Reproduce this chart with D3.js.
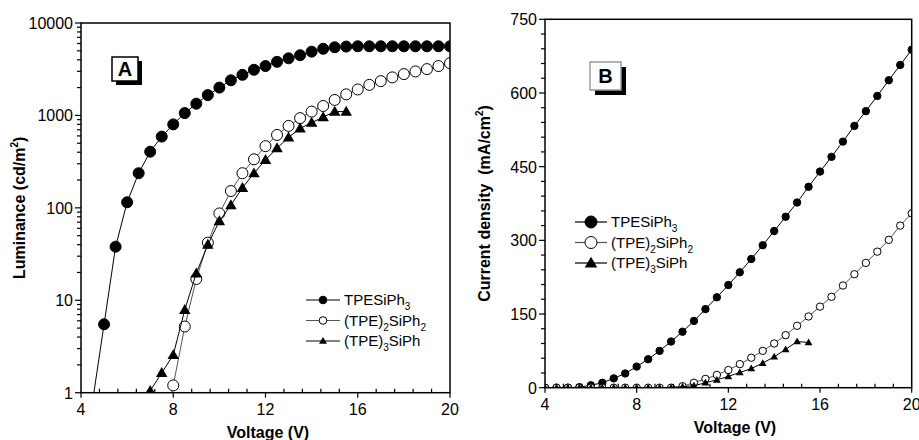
<!DOCTYPE html>
<html lang="en">
<head>
<meta charset="UTF-8">
<title>Luminance and current density vs voltage</title>
<style>
  body { margin: 0; background: #fff; }
  svg { display: block; }
  text { font-family: "Liberation Sans", Arial, sans-serif; fill: #000; }
  .tick-label { font-size: 16px; }
  .axis-title { font-size: 16px; font-weight: bold; }
  .legend-text { font-size: 15px; }
  .frame { fill: none; stroke: #000; stroke-width: 1.5px; }
</style>
</head>
<body>
<svg id="chart" width="919" height="440"></svg>
<script src="https://cdn.jsdelivr.net/npm/d3@7/dist/d3.min.js"></script>
<script>
// ---- panel A: luminance (cd/m2) ----
const voltA1 = [4.5, 5, 5.5, 6, 6.5, 7, 7.5, 8, 8.5, 9, 9.5, 10, 10.5, 11, 11.5, 12, 12.5, 13, 13.5, 14, 14.5, 15, 15.5, 16, 16.5, 17, 17.5, 18, 18.5, 19, 19.5, 20];
const lumTPESiPh3 = [0.8, 5.5, 38, 115, 237, 405, 590, 800, 1060, 1340, 1660, 2000, 2400, 2750, 3120, 3420, 3800, 4150, 4480, 4900, 5260, 5460, 5560, 5600, 5600, 5600, 5600, 5600, 5600, 5600, 5600, 5600];
const voltA2 = [7.5, 8, 8.5, 9, 9.5, 10, 10.5, 11, 11.5, 12, 12.5, 13, 13.5, 14, 14.5, 15, 15.5, 16, 16.5, 17, 17.5, 18, 18.5, 19, 19.5, 20];
const lumTPE2SiPh2 = [0.3, 1.2, 5.2, 17, 42, 87, 152, 237, 335, 465, 615, 770, 935, 1100, 1265, 1470, 1690, 1910, 2140, 2350, 2580, 2800, 2990, 3170, 3420, 3680];
const voltA3 = [7, 7.5, 8, 8.5, 9, 9.5, 10, 10.5, 11, 11.5, 12, 12.5, 13, 13.5, 14, 14.5, 15, 15.5];
const lumTPE3SiPh = [1.05, 1.64, 2.56, 7.9, 19.6, 40, 72, 107, 165, 237, 330, 442, 578, 725, 835, 960, 1100, 1100];

// ---- panel B: current density (mA/cm2) ----
const voltB = [4, 4.5, 5, 5.5, 6, 6.5, 7, 7.5, 8, 8.5, 9, 9.5, 10, 10.5, 11, 11.5, 12, 12.5, 13, 13.5, 14, 14.5, 15, 15.5, 16, 16.5, 17, 17.5, 18, 18.5, 19, 19.5, 20];
const curTPESiPh3 = [0, 0, 0, 1, 5, 10, 19, 29, 43, 58, 75, 94, 114, 136, 160, 184, 209, 235, 262, 290, 319, 348, 377, 409, 440, 470, 501, 533, 563, 594, 626, 657, 688];
const curTPE2SiPh2 = [0, 0, 0, 0, 0, 0, 0, 0, 0, 0, 0, 0, 3, 10, 18, 26, 36, 48, 61, 75, 90, 107, 126, 145, 165, 185, 208, 231, 254, 277, 301, 330, 355];
const voltB3 = [4, 4.5, 5, 5.5, 6, 6.5, 7, 7.5, 8, 8.5, 9, 9.5, 10, 10.5, 11, 11.5, 12, 12.5, 13, 13.5, 14, 14.5, 15, 15.5];
const curTPE3SiPh = [0, 0, 0, 0, 0, 0, 0, 0, 0, 0, 0, 0, 2, 4, 10, 16, 23, 31, 39, 50, 63, 78, 94, 92];

const xTicks = [4, 8, 12, 16, 20];
const lumTicks = [1, 10, 100, 1000, 10000];
const curTicks = [0, 150, 300, 450, 600, 750];

const svg = d3.select("#chart");

function zip(xs, ys) { return xs.map((x, i) => ({ x: x, y: ys[i] })); }

function marker(g, kind, cx, cy, r) {
    if (kind === "tri") {
        g.append("path")
            .attr("d", d3.symbol(d3.symbolTriangle, r * r * 1.9)())
            .attr("transform", `translate(${cx},${cy + r * 0.15})`)
            .attr("fill", "#000");
    } else {
        g.append("circle")
            .attr("cx", cx).attr("cy", cy).attr("r", r)
            .attr("fill", kind === "open" ? "#fff" : "#000")
            .attr("stroke", "#000").attr("stroke-width", 1);
    }
}

function drawPanel(opt) {
    const x = opt.x, y = opt.y;
    const [x0, x1] = x.range();
    const [y0, y1] = y.range(); // bottom, top
    const id = "clip" + opt.name;

    svg.append("clipPath").attr("id", id)
        .append("rect").attr("x", x0).attr("y", y1).attr("width", x1 - x0).attr("height", y0 - y1);

    const plot = svg.append("g").attr("clip-path", `url(#${id})`);
    opt.series.forEach(s => {
        const pts = zip(s.xs, s.ys);
        const line = d3.line().x(d => x(d.x)).y(d => y(d.y));
        plot.append("path").datum(pts)
            .attr("d", line)
            .attr("fill", "none")
            .attr("stroke", s.stroke)
            .attr("stroke-width", 1);
        pts.forEach(d => marker(plot, s.kind, x(d.x), y(d.y), opt.r));
    });

    // frame
    svg.append("rect").attr("class", "frame")
        .attr("x", x0).attr("y", y1).attr("width", x1 - x0).attr("height", y0 - y1);

    // x axis: majors outward, minors inward
    const xa = svg.append("g");
    d3.range(4, 20.01, 0.8).forEach(v => {
        const major = xTicks.some(t => Math.abs(t - v) < 1e-6);
        xa.append("line")
            .attr("x1", x(v)).attr("x2", x(v))
            .attr("y1", y0).attr("y2", major ? y0 + 5 : y0 - 4)
            .attr("stroke", "#000").attr("stroke-width", 1.2);
    });
    xTicks.forEach(t => {
        xa.append("text").attr("class", "tick-label")
            .attr("x", x(t)).attr("y", y0 + 22)
            .attr("text-anchor", "middle").text(t);
    });

    // y axis ticks, outward
    const ya = svg.append("g");
    opt.minorY.forEach(v => {
        ya.append("line").attr("x1", x0 - 4).attr("x2", x0)
            .attr("y1", y(v)).attr("y2", y(v))
            .attr("stroke", "#000").attr("stroke-width", 1.2);
    });
    opt.yTicks.forEach(t => {
        ya.append("line").attr("x1", x0 - 6).attr("x2", x0)
            .attr("y1", y(t)).attr("y2", y(t))
            .attr("stroke", "#000").attr("stroke-width", 1.2);
        ya.append("text").attr("class", "tick-label")
            .attr("x", x0 - 8).attr("y", y(t) + 6)
            .attr("text-anchor", "end").text(t);
    });

    // axis titles
    svg.append("text").attr("class", "axis-title")
        .attr("x", opt.xTitleX).attr("y", opt.xTitleY)
        .attr("text-anchor", "middle").text("Voltage (V)");

    const yt = svg.append("text").attr("class", "axis-title")
        .attr("transform", `translate(${opt.yTitleX},${(y0 + y1) / 2}) rotate(-90)`)
        .attr("text-anchor", "middle")
        .attr("xml:space", "preserve");
    yt.append("tspan").text(opt.yTitle);
    yt.append("tspan").attr("dy", -7).attr("font-size", 10).text("2");
    yt.append("tspan").attr("dy", 7).text(")");

    // panel label box with shadow
    const b = opt.box;
    svg.append("rect").attr("x", b.x + b.sh).attr("y", b.y + b.sh)
        .attr("width", b.w).attr("height", b.h).attr("fill", "#000");
    svg.append("rect").attr("x", b.x).attr("y", b.y)
        .attr("width", b.w).attr("height", b.h)
        .attr("fill", "#fff").attr("stroke", b.stroke).attr("stroke-width", 1.5);
    svg.append("text").attr("x", b.x + b.w / 2).attr("y", b.y + b.h / 2 + 7)
        .attr("text-anchor", "middle")
        .attr("font-size", 20).attr("font-weight", "bold").text(b.label);

    // legend
    const L = opt.legend;
    opt.series.forEach((s, i) => {
        const ly = L.y + i * L.dy;
        svg.append("line").attr("x1", L.x).attr("x2", L.x + L.len)
            .attr("y1", ly).attr("y2", ly)
            .attr("stroke", s.stroke).attr("stroke-width", 1.2);
        marker(svg, s.kind, L.x + L.len / 2, ly, L.r);
        const t = svg.append("text").attr("class", "legend-text")
            .attr("x", L.x + L.len + 4).attr("y", ly + 5);
        let shift = 0;
        s.label.forEach(part => {
            const sp = t.append("tspan");
            if (part.sub) {
                sp.attr("dy", 5 - shift).attr("font-size", 10).text(part.sub);
                shift = 5;
            } else {
                sp.attr("dy", -shift).text(part.t);
                shift = 0;
            }
        });
    });
}

const labels = {
    a: [{ t: "TPESiPh" }, { sub: "3" }],
    b: [{ t: "(TPE)" }, { sub: "2" }, { t: "SiPh" }, { sub: "2" }],
    c: [{ t: "(TPE)" }, { sub: "3" }, { t: "SiPh" }]
};

// minor ticks for the log axis (2..9 per decade)
const lumMinor = [];
[1, 10, 100, 1000].forEach(d => d3.range(2, 10).forEach(k => lumMinor.push(d * k)));

drawPanel({
    name: "A",
    x: d3.scaleLinear().domain([4, 20]).range([81, 450]),
    y: d3.scaleLog().domain([1, 10000]).range([392.7, 23]),
    r: 5.5,
    yTicks: lumTicks,
    minorY: lumMinor,
    series: [
        { xs: voltA1, ys: lumTPESiPh3, kind: "fill", stroke: "#000", label: labels.a },
        { xs: voltA2, ys: lumTPE2SiPh2, kind: "open", stroke: "#555", label: labels.b },
        { xs: voltA3, ys: lumTPE3SiPh, kind: "tri", stroke: "#000", label: labels.c }
    ],
    xTitleX: 268, xTitleY: 438,
    yTitleX: 25, yTitle: "Luminance (cd/m",
    box: { x: 112, y: 57, w: 26, h: 24, sh: 4, stroke: "#000", label: "A" },
    legend: { x: 306, y: 300, dy: 20.5, len: 34, r: 3.8 }
});

drawPanel({
    name: "B",
    x: d3.scaleLinear().domain([4, 20]).range([545, 911.7]),
    y: d3.scaleLinear().domain([0, 750]).range([387.7, 19.3]),
    r: 3.7,
    yTicks: curTicks,
    minorY: d3.range(30, 750, 30).filter(v => v % 150 !== 0),
    series: [
        { xs: voltB, ys: curTPESiPh3, kind: "fill", stroke: "#000", label: labels.a },
        { xs: voltB, ys: curTPE2SiPh2, kind: "open", stroke: "#555", label: labels.b },
        { xs: voltB3, ys: curTPE3SiPh, kind: "tri", stroke: "#000", label: labels.c }
    ],
    xTitleX: 735, xTitleY: 433,
    yTitleX: 490, yTitle: "Current density  (mA/cm",
    box: { x: 590, y: 62, w: 31, h: 28, sh: 5, stroke: "#999", label: "B" },
    legend: { x: 575, y: 222, dy: 20.5, len: 32, r: 6 }
});
</script>
</body>
</html>
